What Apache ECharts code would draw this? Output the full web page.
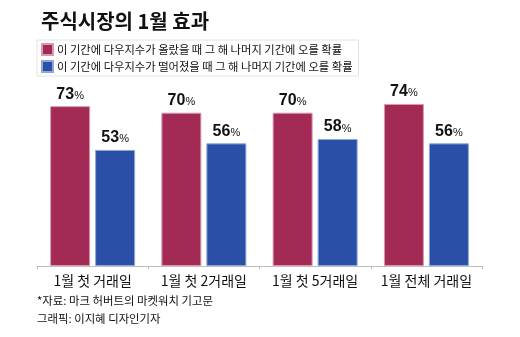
<!DOCTYPE html>
<html><head><meta charset="utf-8">
<script src="https://cdn.jsdelivr.net/npm/echarts@6/dist/echarts.min.js"></script>
<style>html,body{margin:0;padding:0;background:#fff}#c{width:520px;height:337px}</style>
</head><body><div id="c"></div>
<script>
const categories = ['1월 첫 거래일', '1월 첫 2거래일', '1월 첫 5거래일', '1월 전체 거래일'];
const upValues = [73, 70, 70, 74];
const downValues = [53, 56, 58, 56];
const seriesNames = ['이 기간에 다우지수가 올랐을 때 그 해 나머지 기간에 오를 확률', '이 기간에 다우지수가 떨어졌을 때 그 해 나머지 기간에 오를 확률'];
const FONT = '"Noto Sans CJK KR", "Noto Sans", sans-serif';
const NUMFONT = '"Liberation Sans Narrow", "Arial Narrow", "Liberation Sans", sans-serif';
const chart = echarts.init(document.getElementById('c'));
const label = {
  show: true, position: 'top', distance: 4,
  formatter: p => '{n|' + p.value + '}{p|%}',
  rich: {
    n: {fontSize: 16, fontWeight: 'bold', color: '#111', fontFamily: NUMFONT},
    p: {fontSize: 11, color: '#111', fontFamily: NUMFONT, padding: [3, 0, 0, 0]}
  }
};
chart.setOption({
  animation: false,
  title: {text: '주식시장의 1월 효과', left: 36, top: 6, textStyle: {fontSize: 20, fontWeight: 'bold', color: '#111', fontFamily: FONT}},
  legend: {
    orient: 'vertical', left: 37, top: 40, width: 320,
    padding: [3, 6, 3, 4], itemGap: 4, itemWidth: 11, itemHeight: 11,
    borderColor: '#e2e2e2', borderWidth: 1,
    icon: 'rect',
    textStyle: {fontSize: 11.3, color: '#111', fontFamily: FONT, padding: [0, 0, 0, -1]},
    data: seriesNames
  },
  grid: {left: 37, right: 38, top: 47, bottom: 71, containLabel: false},
  xAxis: {
    type: 'category', data: categories,
    axisLine: {lineStyle: {color: '#bdbdbd', width: 1}},
    axisTick: {show: true, length: 3, lineStyle: {color: '#bdbdbd'}},
    axisLabel: {interval: 0, fontSize: 14, color: '#111', fontFamily: FONT, margin: 8}
  },
  yAxis: {type: 'value', min: 0, max: 100, show: false, splitLine: {show: false}},
  series: [
    {name: seriesNames[0], type: 'bar', data: upValues, barWidth: 40, barGap: '12.5%',
     itemStyle: {color: '#A22A55', borderColor: '#d99ab0', borderWidth: 1}, label: label},
    {name: seriesNames[1], type: 'bar', data: downValues, barWidth: 40,
     itemStyle: {color: '#2A4FA6', borderColor: '#8fa6d8', borderWidth: 1}, label: label}
  ],
  graphic: [
    {type: 'text', left: 37, top: 295, style: {text: '*자료: 마크 허버트의 마켓워치 기고문', fontSize: 11.4, fill: '#111', fontFamily: FONT}},
    {type: 'text', left: 37, top: 313, style: {text: '그래픽: 이지혜 디자인기자', fontSize: 11.4, fill: '#111', fontFamily: FONT}}
  ]
});
</script></body></html>
